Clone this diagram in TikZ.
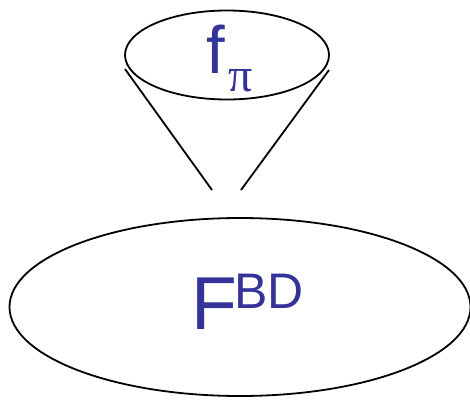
\documentclass[tikz,border=0pt]{standalone}
\usepackage{fontspec}
\setmainfont{Liberation Sans}
\newfontfamily\serifgr{Liberation Serif}
\usetikzlibrary{shapes.geometric}
\definecolor{txtblue}{RGB}{51,51,153}
\tikzset{
  oval/.style={ellipse, draw=black, line width=1.8pt, inner sep=0pt},
  funnel/.style={draw=black, line width=1.8pt},
  lbl/.style={anchor=base west, inner sep=0pt, text=txtblue}
}
\begin{document}
\begin{tikzpicture}[x=1pt,y=-1pt]
\useasboundingbox (0,0) rectangle (470,399);
\node[oval, minimum width=204pt, minimum height=89pt] (top) at (227,55) {};
\node[oval, minimum width=461pt, minimum height=178pt] (big) at (240,307) {};
\coordinate (l1) at (125,69);
\coordinate (l2) at (212,190);
\coordinate (r1) at (329,70);
\coordinate (r2) at (241,190);
\draw[funnel] (l1) -- (l2);
\draw[funnel] (r1) -- (r2);
\node[lbl, font=\fontsize{67}{67}\selectfont] (f) at (206,73) {f};
\node[lbl, font=\fontsize{48}{48}\selectfont\serifgr] (pi) at (228,91) {π};
\node[lbl, font=\fontsize{75}{75}\selectfont] (F) at (191,329) {F};
\node[lbl, font=\fontsize{50}{50}\selectfont] (BD) at (234,308) {BD};
\end{tikzpicture}
\end{document}
